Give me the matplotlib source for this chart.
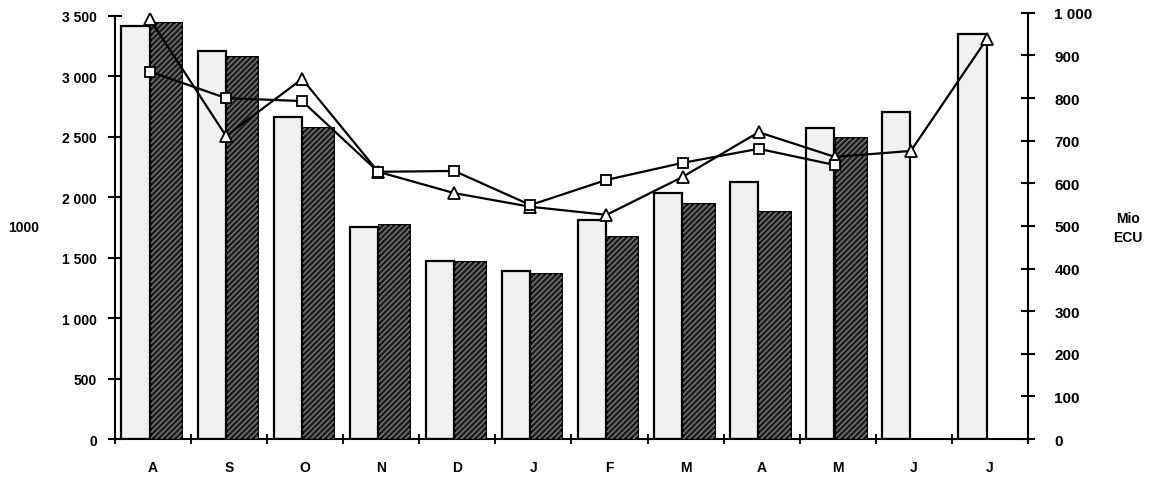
import matplotlib
matplotlib.use("Agg")
import matplotlib.pyplot as plt
import numpy as np

plt.rcParams["font.family"] = ["Liberation Sans", "DejaVu Sans"]
plt.rcParams["hatch.linewidth"] = 1.0

# months, Aug .. Jul
months = ["A", "S", "O", "N", "D", "J", "F", "M", "A", "M", "J", "J"]

# left axis (1000), bars
bars_light = [3420, 3210, 2660, 1755, 1475, 1390, 1810, 2035, 2125, 2570, 2705, 3350]
bars_dark = [3440, 3160, 2575, 1770, 1465, 1365, 1670, 1945, 1880, 2490, None, None]

# right axis (Mio ECU), lines
line_tri = [985, 711, 845, 627, 577, 545, 526, 615, 720, 662, 676, 939]
line_sq = [862, 800, 793, 627, 629, 549, 608, 648, 681, 643, None, None]

x = np.arange(len(months))

fig = plt.figure(figsize=(11.53, 4.81), dpi=100)
ax = fig.add_axes([0.0997, 0.0852, 0.7919, 0.886])
ax2 = ax.twinx()

ax.bar(x + 0.27, bars_light, width=0.37, color="#f1f1f1", edgecolor="black", linewidth=1.6, zorder=2)
xd = [xi for xi, v in zip(x, bars_dark) if v is not None]
vd = [v for v in bars_dark if v is not None]
ax.bar(np.array(xd) + 0.675, vd, width=0.41, color="#1e1e1e", edgecolor="black", linewidth=1.4, zorder=2)
ax.bar(np.array(xd) + 0.675, vd, width=0.41, fill=False, hatch="//////", edgecolor="#7a7a7a", linewidth=0, zorder=3)

mx = x + 0.46
tri = np.array([np.nan if v is None else v for v in line_tri], dtype=float)
sq = np.array([np.nan if v is None else v for v in line_sq], dtype=float)
ax2.plot(mx, tri, color="black", lw=1.6, marker="^", ms=8, mfc="white", mec="black", mew=1.3, zorder=5)
ax2.plot(mx, sq, color="black", lw=1.6, marker="s", ms=7, mfc="white", mec="black", mew=1.3, zorder=5)

ax.set_xlim(0, 12)
ax.set_ylim(0, 3525)
ax2.set_ylim(0, 1000)

for s in ["top", "right"]:
    ax.spines[s].set_visible(False)
for s in ["top", "left"]:
    ax2.spines[s].set_visible(False)
ax2.spines["bottom"].set_visible(False)
for a in (ax, ax2):
    a.patch.set_visible(False)
ax.spines["left"].set_linewidth(1.5)
ax.spines["bottom"].set_linewidth(1.5)
ax2.spines["right"].set_linewidth(1.5)
ax.spines["left"].set_bounds(0, 3500)

ax.set_yticks(np.arange(0, 3501, 500))
ax.set_yticklabels([f"{v:,}".replace(",", " ") for v in range(0, 3501, 500)])
ax2.set_yticks(np.arange(0, 1001, 100))
ax2.set_yticklabels([f"{v:,}".replace(",", " ") for v in range(0, 1001, 100)])

ax.set_xticks(np.arange(0, 13))
ax.set_xticklabels([])
ax.set_xticks(x + 0.5, minor=True)
ax.set_xticklabels(months, minor=True, fontsize=10, fontweight="bold")
ax.tick_params(axis="x", which="minor", length=0, pad=15)
ax.tick_params(axis="x", which="major", direction="inout", length=7, width=1.3)
ax.tick_params(axis="y", direction="inout", length=10, width=1.5, labelsize=10, pad=8)
ax2.tick_params(axis="y", direction="inout", length=10, width=1.5, labelsize=11, pad=14)
for lab in ax.get_yticklabels() + ax2.get_yticklabels():
    lab.set_fontweight("bold")

fig.text(0.007, 0.525, "1000", fontsize=10, fontweight="bold", ha="left", va="center")
fig.text(0.978, 0.525, "Mio\nECU", fontsize=10, fontweight="bold", ha="center", va="center", linespacing=1.4)

fig.savefig("out.png", dpi=100)
